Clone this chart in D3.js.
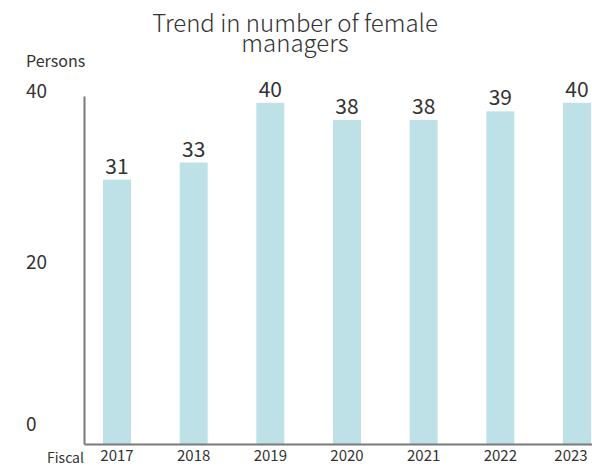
<!DOCTYPE html>
<html>
<head>
<meta charset="utf-8">
<script src="https://cdn.jsdelivr.net/npm/d3@7"></script>
<style>
  body { margin: 0; background: #fff; }
  text { font-family: "Noto Sans CJK JP", "Liberation Sans", sans-serif; fill: #333; }
</style>
</head>
<body>
<div id="chart"></div>
<script>
// data
var years = ["2017", "2018", "2019", "2020", "2021", "2022", "2023"];
var managers = [31, 33, 40, 38, 38, 39, 40];
var yTicks = [0, 20, 40];

var width = 592, height = 467;
var x0 = 84, yBase = 444;

var svg = d3.select("#chart")
    .append("svg")
    .attr("width", width)
    .attr("height", height);

var x = d3.scaleBand()
    .domain(years)
    .range([x0, 610])
    .paddingInner(0.635)
    .paddingOuter(0.248);

var y = d3.scaleLinear()
    .domain([0, 40.8])
    .range([yBase, 96]);

// title
var title = svg.append("text")
    .attr("text-anchor", "middle")
    .attr("font-size", 24)
    .attr("font-weight", 300);
title.append("tspan").attr("x", 295).attr("y", 32).text("Trend in number of female");
title.append("tspan").attr("x", 295).attr("y", 52).text("managers");

svg.append("text")
    .attr("x", 26).attr("y", 67)
    .attr("font-size", 16)
    .text("Persons");

// bars
svg.selectAll(".bar")
    .data(managers)
    .enter()
    .append("rect")
    .attr("class", "bar")
    .attr("x", function(d, i) { return x(years[i]); })
    .attr("y", function(d) { return y(d); })
    .attr("width", x.bandwidth())
    .attr("height", function(d) { return yBase - y(d); })
    .attr("fill", "#bde1e6");

svg.selectAll(".val")
    .data(managers)
    .enter()
    .append("text")
    .attr("class", "val")
    .attr("x", function(d, i) { return x(years[i]) + x.bandwidth() / 2; })
    .attr("y", function(d) { return y(d) - 6; })
    .attr("text-anchor", "middle")
    .attr("font-size", 21)
    .text(function(d) { return d; });

// y axis
var yAxis = svg.append("g")
    .attr("transform", "translate(" + x0 + ",0)")
    .call(d3.axisLeft(y).tickValues(yTicks).tickSize(0));
yAxis.select(".domain").attr("stroke", "#7a7a7a").attr("stroke-width", 2);
yAxis.selectAll(".tick text")
    .attr("x", -58)
    .attr("dy", "0.32em")
    .attr("transform", function(d) { return "translate(0," + (d === 0 ? -20 : -11) + ")"; })
    .attr("text-anchor", "start")
    .attr("font-size", 19)
    .style("font-family", "'Noto Sans CJK JP', sans-serif")
    .attr("fill", "#333");

// x axis
var xAxis = svg.append("g")
    .attr("transform", "translate(0," + yBase + ")")
    .call(d3.axisBottom(x).tickSize(0).tickPadding(6));
xAxis.select(".domain").attr("stroke", "#7a7a7a").attr("stroke-width", 2);
xAxis.selectAll(".tick text")
    .attr("font-size", 15)
    .attr("dx", function(d, i) { return i === years.length - 1 ? -6 : 0; })
    .style("font-family", "'Noto Sans CJK JP', sans-serif")
    .attr("fill", "#333");

svg.append("text")
    .attr("x", 47).attr("y", 463)
    .attr("font-size", 14)
    .text("Fiscal");
</script>
</body>
</html>
